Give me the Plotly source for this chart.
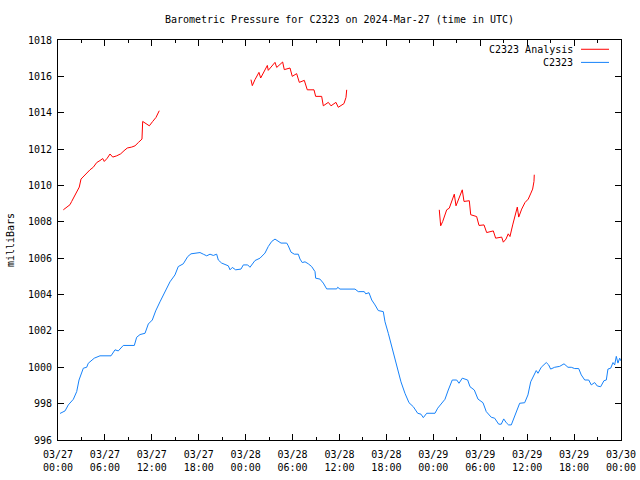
import pandas as pd
import plotly.graph_objects as go

BASE = pd.Timestamp("2024-03-27 00:00")

# C2323 observed pressure: hours since 2024-03-27 00:00 UTC, milliBars
obs_hours = [0.26, 0.9, 1.32, 1.96, 2.39, 2.69, 3.24, 3.67, 3.87, 4.64, 5.37, 6.78, 7.29, 7.71,
             8.35, 9.76, 10.06, 10.49, 11.13, 11.55, 12.06, 12.49, 13.04, 13.68, 14.32, 14.96,
             15.38, 16.02, 16.59, 17.01, 18.03, 18.16, 18.58, 19.02, 19.44, 19.86, 20.29, 20.5,
             20.93, 21.78, 22.0, 22.29, 22.72, 23.4, 23.7, 24.26, 24.55, 25.19, 25.83, 26.47,
             26.89, 27.33, 27.75, 28.1, 28.52, 29.25, 29.45, 29.8, 30.22, 30.73, 30.95, 31.24,
             31.59, 32.01, 32.44, 32.87, 32.95, 33.5, 33.93, 34.36, 35.64, 35.77, 36.06, 37.98,
             38.4, 39.17, 39.35, 39.77, 40.12, 40.54, 40.96, 41.6, 41.82, 42.24, 42.58, 43.01,
             43.44, 43.86, 44.37, 44.89, 45.44, 46.0, 46.42, 46.72, 47.15, 48.21, 48.56, 48.98,
             49.49, 49.91, 50.42, 50.99, 51.28, 51.7, 52.39, 52.69, 53.24, 53.71, 54.35, 54.77,
             55.41, 55.84, 56.36, 56.69, 57.0, 57.33, 57.63, 57.97, 58.4, 58.82, 59.04, 59.68,
             60.1, 60.45, 60.87, 61.16, 61.38, 61.8, 62.44, 62.75, 63.0, 63.52, 64.16, 64.71,
             65.22, 65.64, 66.08, 66.59, 66.92, 67.36, 67.87, 68.2, 68.63, 68.97, 69.4, 69.82,
             70.12, 70.33, 70.68, 70.98, 71.19, 71.4, 71.61, 71.83, 72.0]
obs_mb = [997.46, 997.6, 997.93, 998.24, 998.66, 999.3, 999.95, 1000.0, 1000.22, 1000.5, 1000.63,
          1000.63, 1000.96, 1000.9, 1001.2, 1001.2, 1001.65, 1001.8, 1001.87, 1002.38, 1002.6,
          1003.1, 1003.6, 1004.16, 1004.7, 1005.08, 1005.54, 1005.69, 1006.09, 1006.24, 1006.28,
          1006.31, 1006.22, 1006.13, 1006.22, 1006.15, 1006.22, 1005.9, 1005.73, 1005.58, 1005.36,
          1005.49, 1005.36, 1005.4, 1005.63, 1005.63, 1005.5, 1005.87, 1006.0, 1006.28, 1006.64,
          1006.92, 1007.05, 1006.95, 1006.83, 1006.83, 1006.68, 1006.33, 1006.22, 1006.22, 1005.95,
          1005.76, 1005.8, 1005.69, 1005.54, 1005.26, 1004.9, 1004.85, 1004.63, 1004.31, 1004.31,
          1004.4, 1004.3, 1004.3, 1004.16, 1004.16, 1004.04, 1004.1, 1003.7, 1003.43, 1003.12,
          1003.06, 1002.5, 1001.87, 1001.32, 1000.58, 999.95, 999.2, 998.57, 998.05, 997.83,
          997.47, 997.42, 997.23, 997.47, 997.47, 997.75, 997.97, 998.24, 998.75, 999.3, 999.3,
          999.12, 999.4, 999.3, 998.93, 998.75, 998.25, 998.05, 997.56, 997.25, 997.2, 996.87,
          996.87, 997.16, 996.95, 996.83, 996.83, 997.32, 997.75, 998.02, 998.05, 998.48, 999.2,
          999.58, 999.82, 999.67, 1000.0, 1000.26, 1000.13, 999.9, 1000.0, 1000.05, 1000.19,
          1000.0, 1000.0, 999.93, 999.93, 999.58, 999.3, 999.3, 999.03, 999.16, 998.97, 998.93,
          999.26, 999.3, 999.9, 999.95, 1000.26, 1000.13, 1000.6, 1000.23, 1000.5, 1000.35]

# C2323 Analysis: three separate runs (None marks the gaps)
ana_hours = [0.68, 1.11, 1.53, 1.75, 2.05, 2.39, 2.72, 2.94, 3.24, 3.67, 4.09, 4.51, 4.95, 5.37,
             5.72, 5.92, 6.3, 6.65, 7.0, 7.51, 8.02, 8.44, 8.86, 9.42, 9.85, 10.27, 10.74, 10.83,
             11.25, 11.68, 12.11, 12.53, 12.95, None,
             24.68, 24.85, 25.19, 25.7, 25.92, 26.34, 26.77, 26.89, 27.33, 27.75, 27.97, 28.73,
             28.94, 29.67, 29.96, 30.52, 30.86, 31.5, 31.88, 32.74, 32.95, 33.72, 33.93, 34.57,
             34.91, 35.55, 35.84, 36.57, 36.83, 36.92, None,
             48.76, 48.85, 48.94, 49.2, 49.71, 50.04, 50.55, 50.68, 50.9, 51.32, 51.7, 51.92,
             52.6, 52.78, 53.54, 53.84, 54.48, 54.82, 55.67, 55.97, 56.74, 56.95, 57.29, 57.58,
             57.8, 58.15, 58.44, 58.74, 58.92, 59.3, 59.72, 60.14, 60.48, 60.7, 60.87, 60.91]
ana_mb = [1008.66, 1008.8, 1008.94, 1009.12, 1009.39, 1009.67, 1009.91, 1010.35, 1010.49, 1010.64,
          1010.86, 1011.0, 1011.26, 1011.37, 1011.48, 1011.32, 1011.5, 1011.73, 1011.56, 1011.63,
          1011.74, 1011.91, 1012.06, 1012.11, 1012.18, 1012.36, 1012.55, 1013.52, 1013.39,
          1013.28, 1013.52, 1013.74, 1014.11, None,
          1015.82, 1015.49, 1015.82, 1016.22, 1015.91, 1016.27, 1016.6, 1016.33, 1016.55,
          1016.77, 1016.49, 1016.79, 1016.37, 1016.46, 1016.0, 1016.15, 1015.67, 1015.78,
          1015.26, 1015.26, 1014.9, 1014.9, 1014.38, 1014.57, 1014.38, 1014.57, 1014.3, 1014.5,
          1014.84, 1015.26, None,
          1008.66, 1008.26, 1007.78, 1008.02, 1008.66, 1008.75, 1009.39, 1009.52, 1008.88,
          1009.36, 1009.76, 1009.12, 1009.16, 1008.39, 1008.29, 1007.8, 1007.83, 1007.41, 1007.5,
          1007.1, 1007.16, 1006.88, 1007.05, 1007.34, 1007.19, 1007.83, 1008.29, 1008.81,
          1008.26, 1008.7, 1009.06, 1009.25, 1009.58, 1009.8, 1010.22, 1010.59]

series_names = ["C2323 Analysis", "C2323"]
series_colors = ["#ff0000", "#1682fa"]
title_text = "Barometric Pressure for C2323 on 2024-Mar-27 (time in UTC)"
y_title = "milliBars"


def to_time(hours):
    return [None if h is None else BASE + pd.Timedelta(hours=h) for h in hours]


FONT = "DejaVu Sans Mono, Liberation Mono, monospace"

fig = go.Figure()
fig.add_trace(go.Scatter(x=to_time(ana_hours), y=ana_mb, mode="lines", name=series_names[0],
                         line=dict(color=series_colors[0], width=1), connectgaps=False,
                         showlegend=False))
fig.add_trace(go.Scatter(x=to_time(obs_hours), y=obs_mb, mode="lines", name=series_names[1],
                         line=dict(color=series_colors[1], width=1), showlegend=False))

# gnuplot-style key: text right-aligned with sample line to its right
key_rows = [0.9768, 0.944]
for name, color, yk in zip(series_names, series_colors, key_rows):
    fig.add_annotation(x=0.9183, y=yk, xref="paper", yref="paper", text=name, showarrow=False,
                       xanchor="right", yanchor="middle", font=dict(family=FONT, size=10, color="black"))
    fig.add_shape(type="line", xref="paper", yref="paper", x0=0.929, x1=0.9787, y0=yk, y1=yk,
                  line=dict(color=color, width=1))

fig.update_layout(
    width=640, height=480,
    margin=dict(l=58, r=19, t=40, b=40, autoexpand=False),
    paper_bgcolor="white", plot_bgcolor="white",
    font=dict(family=FONT, size=10, color="black"),
    title=dict(text=title_text, x=339.5 / 640, xanchor="center",
               y=1 - 19 / 480, yanchor="middle", yref="container",
               font=dict(family=FONT, size=10, color="black")),
    xaxis=dict(
        type="date", automargin=False,
        range=[BASE, BASE + pd.Timedelta(hours=72)],
        tick0=BASE, dtick=6 * 3600 * 1000,
        tickformat="%m/%d<br>%H:%M",
        ticks="inside", ticklen=6, tickcolor="black",
        ticklabelstandoff=5,
        minor=dict(dtick=3 * 3600 * 1000, ticks="inside", ticklen=3, tickcolor="black", showgrid=False),
        showline=True, linecolor="black", linewidth=1, mirror="ticks",
        showgrid=False, zeroline=False,
        tickfont=dict(family=FONT, size=10, color="black"),
    ),
    yaxis=dict(
        range=[996, 1018], dtick=2, tick0=996, automargin=False,
        ticks="inside", ticklen=6, tickcolor="black",
        ticklabelstandoff=3,
        showline=True, linecolor="black", linewidth=1, mirror="ticks",
        showgrid=False, zeroline=False,
        tickfont=dict(family=FONT, size=10, color="black"),
        title=dict(text=y_title, font=dict(family=FONT, size=10, color="black"), standoff=11),
    ),
)

fig.write_html("out.html")
